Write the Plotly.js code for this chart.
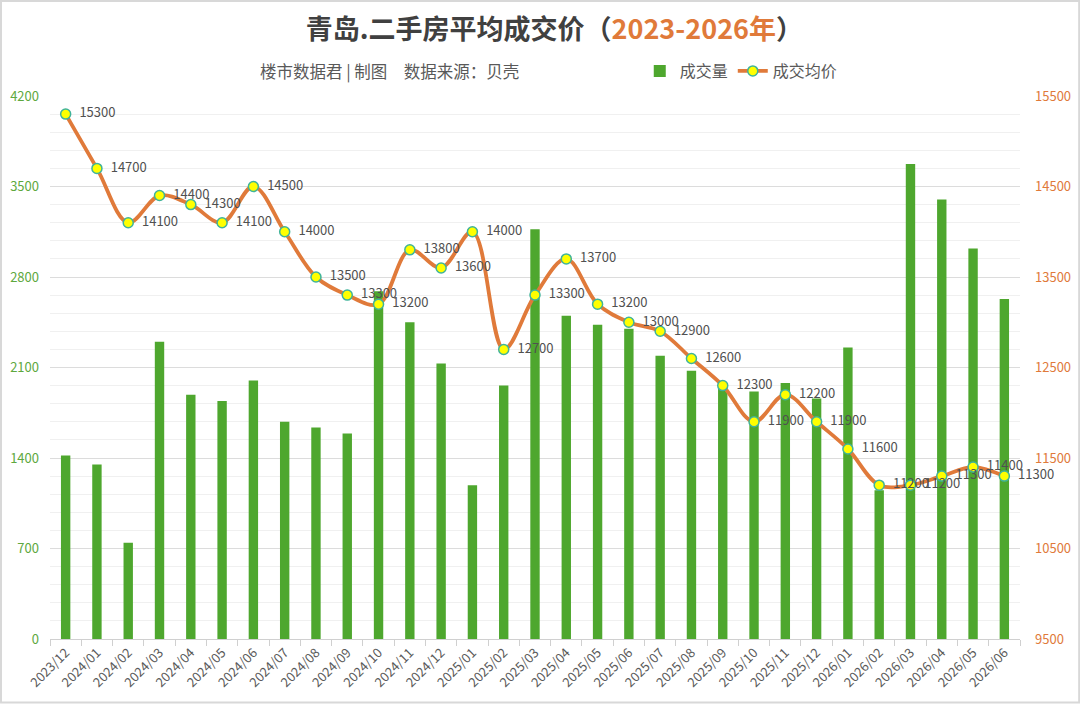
<!DOCTYPE html>
<html>
<head>
<meta charset="utf-8">
<script src="https://cdn.plot.ly/plotly-3.0.1.min.js"></script>
<style>
  html, body { margin: 0; padding: 0; background: #fff; }
  #chart { width: 1080px; height: 704px; }
</style>
</head>
<body>
<div id="chart"></div>
<script>
const months = [
  "2023/12", "2024/01", "2024/02", "2024/03", "2024/04", "2024/05", "2024/06",
  "2024/07", "2024/08", "2024/09", "2024/10", "2024/11", "2024/12", "2025/01",
  "2025/02", "2025/03", "2025/04", "2025/05", "2025/06", "2025/07", "2025/08",
  "2025/09", "2025/10", "2025/11", "2025/12", "2026/01", "2026/02", "2026/03",
  "2026/04", "2026/05", "2026/06"
];

// 成交量 (left axis)
const volume = [
  1420, 1350, 745, 2300, 1890, 1840, 2000,
  1680, 1635, 1590, 2690, 2450, 2130, 1190,
  1960, 3170, 2500, 2430, 2400, 2190, 2075,
  1935, 1915, 1980, 1860, 2255, 1150, 3675,
  3400, 3020, 2630
];

// 成交均价 (right axis)
const price = [
  15300, 14700, 14100, 14400, 14300, 14100, 14500,
  14000, 13500, 13300, 13200, 13800, 13600, 14000,
  12700, 13300, 13700, 13200, 13000, 12900, 12600,
  12300, 11900, 12200, 11900, 11600, 11200, 11200,
  11300, 11400, 11300
];

const leftTicks = [0, 700, 1400, 2100, 2800, 3500, 4200];
const rightTicks = [9500, 10500, 11500, 12500, 13500, 14500, 15500];

const font = 'Noto Sans CJK SC, Noto Sans, sans-serif';

const data = [
  {
    type: 'bar',
    name: '成交量',
    x: months,
    y: volume,
    marker: { color: '#4ea72e' },
    hoverinfo: 'x+y',
  },
  {
    type: 'scatter',
    mode: 'lines+markers+text',
    name: '成交均价',
    x: months,
    y: price,
    yaxis: 'y2',
    line: { color: '#e07a3a', width: 3.8, shape: 'spline', smoothing: 1 },
    marker: { color: '#ffff00', size: 10, line: { color: '#3fb39a', width: 1.5 } },
    text: price.map(v => '\u2002' + v),
    textposition: 'middle right',
    textfont: { family: font, size: 13, color: '#505050' },
    cliponaxis: false,
  }
];

const layout = {
  width: 1080,
  height: 704,
  margin: { l: 50, r: 60, t: 96, b: 65 },
  paper_bgcolor: '#ffffff',
  plot_bgcolor: '#ffffff',
  font: { family: font, color: '#595959' },
  showlegend: true,
  bargap: 0.7,
  title: {
    text: '<b>青岛.二手房平均成交价（<span style="color:#e07a3a">2023-2026年</span>）</b>',
    font: { family: font, size: 27, color: '#404040' },
    x: 0.52,
    xref: 'paper',
    xanchor: 'center',
    y: 0.958,
    yref: 'container',
    yanchor: 'middle',
  },
  legend: {
    orientation: 'h',
    x: 0.608,
    xanchor: 'left',
    y: 1.046,
    yanchor: 'middle',
    font: { family: font, size: 16, color: '#595959' },
    itemwidth: 30,
    bgcolor: 'rgba(0,0,0,0)',
  },
  annotations: [
    {
      text: '楼市数据君 | 制图\u2002\u2002数据来源：贝壳',
      xref: 'paper', yref: 'paper',
      x: 0.35, y: 1.046,
      xanchor: 'center', yanchor: 'middle',
      showarrow: false,
      font: { family: font, size: 16.5, color: '#595959' },
    }
  ],
  xaxis: {
    type: 'category',
    automargin: false,
    range: [-0.5, months.length - 0.5],
    tickangle: -45,
    tickfont: { family: font, size: 13, color: '#595959' },
    showgrid: false,
    showline: true,
    linecolor: '#d0d0d0',
    linewidth: 1,
    ticks: 'outside',
    tickson: 'boundaries',
    ticklen: 6,
    tickcolor: '#d0d0d0',
  },
  yaxis: {
    automargin: false,
    range: [0, 4200],
    tickvals: leftTicks,
    ticktext: leftTicks.map(String),
    tickfont: { family: font, size: 13, color: '#5ea83e' },
    showgrid: true,
    gridcolor: '#dcdcdc',
    gridwidth: 1,
    zeroline: false,
    showline: false,
    ticklen: 0,
    ticklabelstandoff: 10,
    minor: { dtick: 140, showgrid: true, gridcolor: '#f0f0f0', gridwidth: 1 },
  },
  yaxis2: {
    automargin: false,
    range: [9500, 15500],
    overlaying: 'y',
    side: 'right',
    tickvals: rightTicks,
    ticktext: rightTicks.map(String),
    tickfont: { family: font, size: 13, color: '#e07a3a' },
    showgrid: false,
    zeroline: false,
    showline: false,
    ticklen: 0,
    ticklabelstandoff: 14,
  },
  shapes: [
    {
      type: 'rect', xref: 'paper', yref: 'paper',
      x0: -0.0505, x1: 1.061, y0: -0.117, y1: 1.175,
      line: { color: '#d8d8d8', width: 2 },
      layer: 'below',
    }
  ],
};

Plotly.newPlot('chart', data, layout, { displayModeBar: false, staticPlot: true });
</script>
</body>
</html>
